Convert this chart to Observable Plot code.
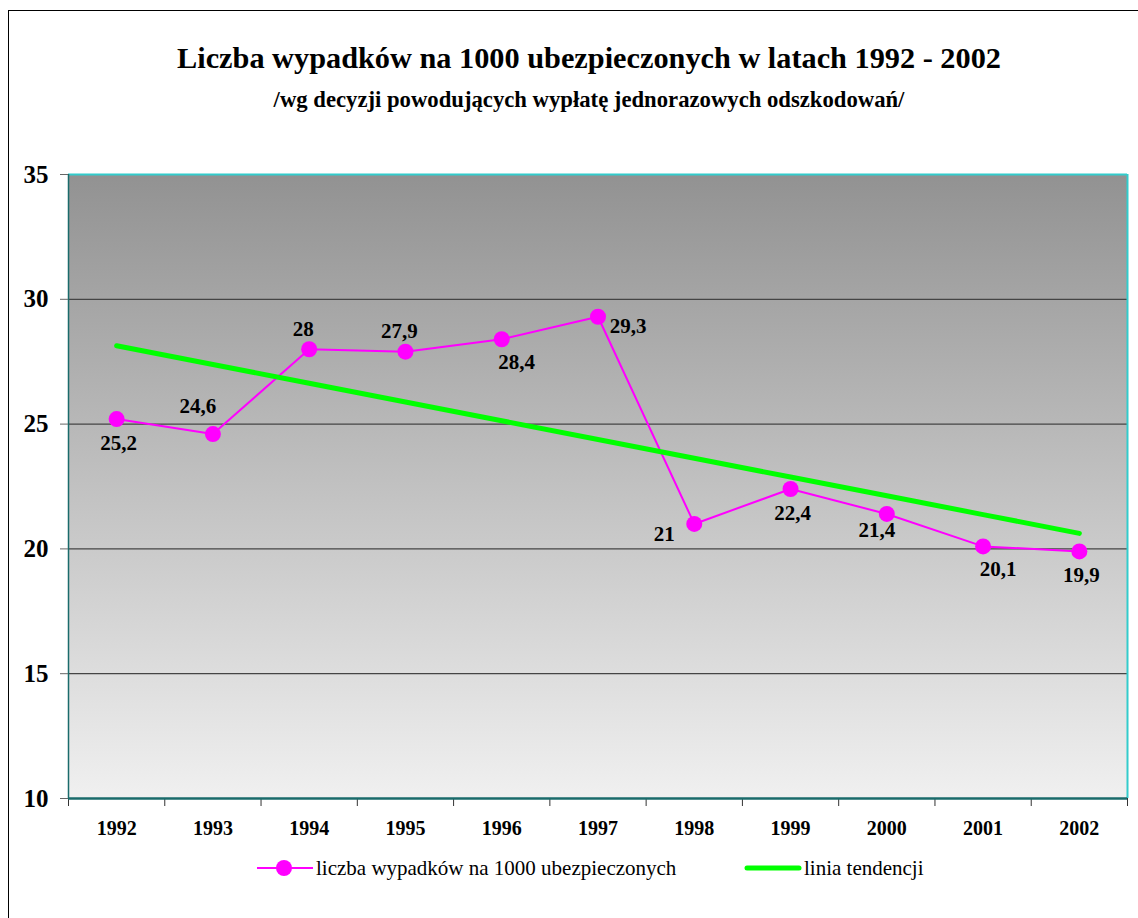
<!DOCTYPE html>
<html><head><meta charset="utf-8">
<script src="https://cdn.jsdelivr.net/npm/d3@7"></script>
<script src="https://cdn.jsdelivr.net/npm/@observablehq/plot@0.6"></script>
<style>
html,body{margin:0;padding:0;background:#fff;overflow:hidden;width:1138px;height:918px;}
body{font-family:"Liberation Serif","Times New Roman",serif;position:relative;}
#chart svg, #chart svg text{font-family:"Liberation Serif","Times New Roman",serif !important;}
#frame{position:absolute;left:8px;top:10px;width:1200px;height:1000px;border-left:1px solid #000;border-top:1px solid #000;}
#title{position:absolute;top:43px;left:20px;width:1138px;text-align:center;font-weight:bold;font-size:30.3px;line-height:30px;}
#subtitle{position:absolute;top:89px;left:20px;width:1138px;text-align:center;font-weight:bold;font-size:22.7px;line-height:22px;}
#chart{position:absolute;top:140px;left:0;}
.leg{position:absolute;top:856px;height:24px;display:flex;align-items:center;font-size:21px;}
.leg svg{display:block;}
</style></head>
<body>
<div id="frame"></div>
<div id="title">Liczba wypadków na 1000 ubezpieczonych w latach 1992 - 2002</div>
<div id="subtitle">/wg decyzji powodujących wypłatę jednorazowych odszkodowań/</div>
<div id="chart"></div>
<div class="leg" style="left:257px"><svg width="56" height="24"><line x1="0" y1="12" x2="56" y2="12" stroke="#ff00ff" stroke-width="2"/><circle cx="27" cy="12" r="8" fill="#ff00ff"/></svg><span style="margin-left:3px">liczba wypadków na 1000 ubezpieczonych</span></div>
<div class="leg" style="left:744px"><svg width="58" height="24"><line x1="3" y1="12" x2="55" y2="12" stroke="#00ff00" stroke-width="5" stroke-linecap="round"/></svg><span style="margin-left:2px">linia tendencji</span></div>
<script>
const years = [1992,1993,1994,1995,1996,1997,1998,1999,2000,2001,2002];
const values = [25.2,24.6,28,27.9,28.4,29.3,21,22.4,21.4,20.1,19.9];
const valueLabels = ["25,2","24,6","28","27,9","28,4","29,3","21","22,4","21,4","20,1","19,9"];
const yTicks = [10,15,20,25,30,35];
const labelPlacement = ["below","above-left","above","above","below-right","right","left","below","below-left","below-right","below"];

const data = years.map((year,i)=>({year, value:values[i], label:valueLabels[i], place:labelPlacement[i]}));

// linear trend (least squares) computed from the data
const mx = d3.mean(years), my = d3.mean(values);
const slope = d3.sum(years,(x,i)=>(x-mx)*(values[i]-my)) / d3.sum(years,x=>(x-mx)**2);
const trend = years.map(x=>({year:x, value: my + slope*(x-mx)}));

const bounds = years.map(y=>y-0.5).concat([years[years.length-1]+0.5]);
const placeOffsets = {
  "below":[2,24], "above":[-6,-20], "above-left":[-15,-28], "below-right":[15,23],
  "right":[30,9], "left":[-30,10], "below-left":[-10,16]
};
const labelMarks = Object.entries(placeOffsets).map(([p,[dx,dy]]) =>
  Plot.text(data.filter(d=>d.place===p), {x:"year", y:"value", text:"label", dx, dy,
    fill:"#000", fontWeight:"bold", fontSize:21}));

const plot = Plot.plot({
  width:1138, height:700,
  marginLeft:68, marginRight:11, marginTop:34, marginBottom:42,
  style:{fontFamily:"Liberation Serif, Times New Roman, serif", background:"transparent"},
  x:{type:"linear", domain:[bounds[0], bounds[bounds.length-1]]},
  y:{domain:[10,35]},
  marks:[
    Plot.frame({fill:"url(#bgGrad)", stroke:"none"}),
    Plot.ruleY(yTicks.filter(t=>t>10 && t<35), {stroke:"#444", strokeWidth:1.3}),
    Plot.ruleY([35], {stroke:"#33cccc", strokeWidth:2}),
    Plot.ruleX([bounds[bounds.length-1]], {stroke:"#33cccc", strokeWidth:2}),
    Plot.ruleX([bounds[0]], {stroke:"#1a6b6b", strokeWidth:1.5}),
    Plot.axisY({ticks:yTicks, tickSize:8, tickPadding:12, stroke:"#666", fill:"#000",
      fontSize:25, fontWeight:"bold", label:null}),
    Plot.axisX({ticks:bounds, tickSize:8, tickFormat:()=>"" , stroke:"#333", label:null}),
    Plot.axisX({ticks:years, tickSize:0, tickPadding:22, tickFormat:d=>String(d), fill:"#000",
      fontSize:20, fontWeight:"bold", label:null}),
    Plot.ruleY([10], {stroke:"#1a6b6b", strokeWidth:2.5}),
    Plot.line(data, {x:"year", y:"value", stroke:"#ff00ff", strokeWidth:2}),
    Plot.line(trend, {x:"year", y:"value", stroke:"#00ff00", strokeWidth:5, strokeLinecap:"round"}),
    Plot.dot(data, {x:"year", y:"value", r:8, fill:"#ff00ff", stroke:"none"}),
    ...labelMarks
  ]
});
// gradient definition for the plot background
const svg = d3.select(plot);
const defs = svg.insert("defs", ":first-child");
const g = defs.append("linearGradient").attr("id","bgGrad").attr("x1",0).attr("y1",0).attr("x2",0).attr("y2",1);
g.append("stop").attr("offset","0%").attr("stop-color","#929292");
g.append("stop").attr("offset","100%").attr("stop-color","#f0f0f0");
document.getElementById("chart").appendChild(plot);
</script>
</body></html>
